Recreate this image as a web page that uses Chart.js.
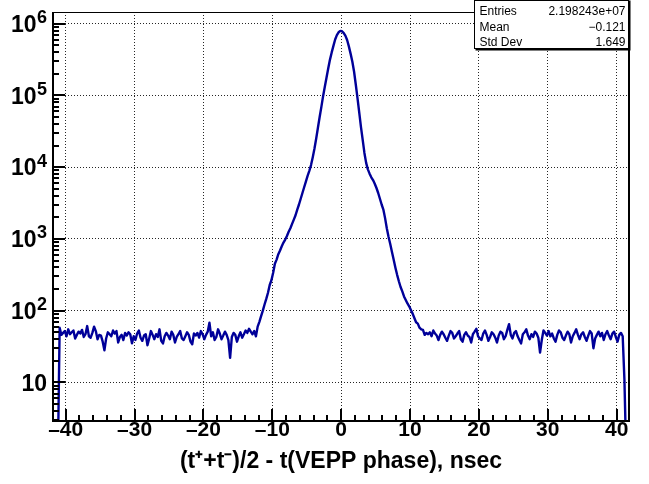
<!DOCTYPE html>
<html><head><meta charset="utf-8">
<script src="https://cdn.jsdelivr.net/npm/chart.js@4/dist/chart.umd.min.js"></script>
<style>html,body{margin:0;padding:0;background:#fff;}canvas{display:block;}</style>
</head><body>
<canvas id="c" width="649" height="484"></canvas>
<script>
// Histogram binning: 336 bins of 0.25 ns from -42 to 42
const binLow = -42;
const binWidth = 0.25;
// Empty bins (value 1 lies below the axis floor, i.e. off-scale like an empty bin)
const emptyLeft = [1, 1, 1, 1];
// Flat background, bins centred -40.875 ... -13.125
const flatLeft = [
  58, 46, 49, 52, 44, 55, 47, 50,
  53, 41, 46, 51, 48, 54, 43, 47,
  61, 44, 42, 49, 60, 52, 40, 46,
  45, 37, 28, 41, 50, 47, 44, 53,
  48, 52, 36, 43, 46, 39, 49, 45,
  50, 47, 35, 44, 39, 48, 53, 42,
  38, 45, 47, 33, 41, 52, 46, 40,
  47, 43, 55, 38, 35, 44, 49, 45,
  40, 51, 46, 36, 43, 47, 52, 41,
  39, 44, 50, 46, 37, 34, 48, 45,
  49, 42, 52, 47, 40, 46, 51, 68,
  44, 50, 39, 43, 55, 48, 40, 45,
  51, 46, 39, 22, 43, 49, 46, 37,
  44, 50, 42, 47, 53, 49, 56, 51
];
// Peak region, bins centred -12.875 ... 12.375
const peak = [
  47, 52, 44, 60, 70, 84, 100, 122,
  146, 178, 228, 266, 338, 452, 515, 612,
  690, 790, 890, 980, 1100, 1260, 1410, 1620,
  1860, 2140, 2570, 3020, 3630, 4370, 5250, 6310,
  7590, 8910, 10700, 13800, 18200, 25100, 35500, 50100,
  69200, 97700, 132000, 178000, 240000, 316000, 398000, 490000,
  603000, 692000, 759000, 794000,
  785000, 741000, 676000, 589000, 479000, 380000, 295000, 214000,
  141000, 91200, 57500, 36300, 24000, 15800, 11500, 9330,
  8130, 7240, 6610, 5890, 5130, 4370, 3630, 3020,
  2570, 1950, 1410, 1070, 850, 660, 513, 398,
  316, 257, 214, 186, 158, 141, 126, 115,
  102, 91, 79, 69, 66, 58, 55, 54,
  46, 49
];
// Flat background, bins centred 12.625 ... 40.875
const flatRight = [
  47, 50, 44, 53, 48, 45, 39, 46,
  51, 47, 42, 38, 45, 52, 49, 41,
  44, 48, 52, 40, 37, 46, 50, 45,
  43, 36, 47, 51, 56, 44, 41, 39,
  48, 53, 46, 38, 43, 50, 47, 42,
  36, 45, 51, 49, 40, 44, 54, 65,
  46, 41, 49, 52, 44, 39, 35, 47,
  50, 55, 45, 40, 47, 43, 51, 48,
  42, 26, 39, 53, 49, 45, 52, 44,
  48, 41, 37, 46, 53, 50, 42, 39,
  45, 51, 47, 36, 44, 49, 55, 46,
  40, 47, 50, 43, 38, 45, 52, 48,
  30, 41, 46, 51, 44, 49, 39, 47,
  52, 45, 40, 48, 51, 43, 37, 46,
  49, 44
];
// Last partial bin, then empty bins
const edgeRight = [11, 1, 1, 1];

const xTickValues = [-40, -30, -20, -10, 0, 10, 20, 30, 40];
const xTickLabels = ['\u201340', '\u201330', '\u201320', '\u201310', '0', '10', '20', '30', '40'];
const yTickValues = [10, 100, 1000, 10000, 100000, 1000000];
const yTickBase = ['10', '10', '10', '10', '10', '10'];
const yTickExponent = ['', '2', '3', '4', '5', '6'];
const xTitle = '(t\u207A+t\u207B)/2 - t(VEPP phase), nsec';
const statsLabels = ['Entries', 'Mean', 'Std Dev'];
const statsValues = ['2.198243e+07', '\u22120.121', '1.649'];

const counts = [].concat(emptyLeft, flatLeft, peak, flatRight, edgeRight);
const points = counts.map((c, i) => ({ x: binLow + (i + 0.5) * binWidth, y: c }));

const FONT = "'Liberation Sans', Arial, Helvetica, sans-serif";

const rootDecor = {
  id: 'rootDecor',
  beforeDraw(chart) {
    const ctx = chart.ctx;
    ctx.save();
    ctx.fillStyle = '#fff';
    ctx.fillRect(0, 0, chart.width, chart.height);
    ctx.restore();
  },
  afterDatasetsDraw(chart) {
    const { ctx, chartArea: a, scales: { x, y } } = chart;
    ctx.save();
    ctx.strokeStyle = '#000';
    ctx.lineWidth = 2;
    ctx.beginPath();
    for (let v = -40; v <= 40; v += 2) {
      const px = Math.round(x.getPixelForValue(v));
      const len = v % 10 === 0 ? 12 : 6;
      ctx.moveTo(px, a.bottom);
      ctx.lineTo(px, a.bottom - len);
    }
    for (let d = 0; d <= 6; d++) {
      for (let k = 1; k <= 9; k++) {
        const v = k * Math.pow(10, d);
        if (v < y.min || v > y.max) continue;
        const py = Math.round(y.getPixelForValue(v));
        const len = k === 1 ? 12 : 6;
        ctx.moveTo(a.left, py);
        ctx.lineTo(a.left + len, py);
      }
    }
    ctx.stroke();
    // frame
    ctx.lineWidth = 1;
    ctx.beginPath();
    ctx.moveTo(a.left, Math.round(a.top) + 0.5);
    ctx.lineTo(a.right, Math.round(a.top) + 0.5);
    ctx.stroke();
    ctx.lineWidth = 2;
    ctx.beginPath();
    ctx.moveTo(a.left, a.top);
    ctx.lineTo(a.left, a.bottom);
    ctx.lineTo(a.right, a.bottom);
    ctx.lineTo(a.right, a.top);
    ctx.stroke();
    // y tick labels: 10 with superscript exponent
    ctx.fillStyle = '#000';
    ctx.textBaseline = 'alphabetic';
    ctx.textAlign = 'left';
    const rightEdge = a.left - 6;
    yTickValues.forEach((v, i) => {
      const py = y.getPixelForValue(v);
      ctx.font = 'bold 18px ' + FONT;
      const ew = yTickExponent[i] ? ctx.measureText(yTickExponent[i]).width : 0;
      ctx.font = 'bold 23px ' + FONT;
      const bw = ctx.measureText(yTickBase[i]).width;
      const bx = rightEdge - ew - bw - (ew ? 0.5 : 0);
      ctx.fillText(yTickBase[i], bx, py + 8.3);
      if (ew) {
        ctx.font = 'bold 18px ' + FONT;
        ctx.fillText(yTickExponent[i], rightEdge - ew, py - 0.5);
      }
    });
    ctx.restore();
  },
  afterDraw(chart) {
    const ctx = chart.ctx;
    ctx.save();
    const bx = 474.5, by = 0.5, bw = 154, bh = 48;
    ctx.fillStyle = '#fff';
    ctx.fillRect(bx, by, bw, bh);
    ctx.strokeStyle = '#000';
    ctx.lineWidth = 1;
    ctx.strokeRect(bx, by, bw, bh);
    ctx.lineWidth = 2;
    ctx.beginPath();
    ctx.moveTo(bx + 1, by + bh + 1);
    ctx.lineTo(bx + bw + 1, by + bh + 1);
    ctx.lineTo(bx + bw + 1, by);
    ctx.stroke();
    ctx.fillStyle = '#000';
    ctx.font = '12px ' + FONT;
    ctx.textBaseline = 'alphabetic';
    const baselines = [15, 30.5, 46];
    statsLabels.forEach((t, i) => {
      ctx.textAlign = 'left';
      ctx.fillText(t, 479.5, baselines[i]);
      ctx.textAlign = 'right';
      ctx.fillText(statsValues[i], 625.5, baselines[i]);
    });
    ctx.restore();
  }
};

new Chart(document.getElementById('c'), {
  type: 'line',
  data: {
    datasets: [{
      data: points,
      borderColor: '#000099',
      borderWidth: 2.4,
      pointRadius: 0,
      tension: 0,
      fill: false,
      borderJoinStyle: 'round'
    }]
  },
  options: {
    responsive: false,
    animation: false,
    devicePixelRatio: 1,
    layout: { padding: { top: 12, right: 20, bottom: 0, left: 0 } },
    plugins: { legend: { display: false }, tooltip: { enabled: false } },
    scales: {
      x: {
        type: 'linear',
        min: -41.84,
        max: 41.79,
        afterBuildTicks(s) { s.ticks = xTickValues.map(v => ({ value: v })); },
        afterFit(s) { s.height = 63; s.paddingLeft = 0; s.paddingRight = 0; },
        ticks: {
          autoSkip: false,
          maxRotation: 0,
          padding: -3,
          color: '#000',
          font: { family: FONT, size: 21, weight: 'bold' },
          callback(v) { const i = xTickValues.indexOf(v); return i >= 0 ? xTickLabels[i] : ''; }
        },
        grid: { color: 'rgba(0,0,0,0.85)', lineWidth: 1, drawTicks: false },
        border: { display: false, dash: [1, 2] },
        title: {
          display: true,
          text: xTitle,
          color: '#000',
          font: { family: FONT, size: 23, weight: 'bold' },
          padding: { top: 0, bottom: 9 }
        }
      },
      y: {
        type: 'logarithmic',
        min: 2.9,
        max: 1456000,
        afterBuildTicks(s) { s.ticks = yTickValues.map(v => ({ value: v, major: true })); },
        afterFit(s) { s.width = 53; s.paddingTop = 0; s.paddingBottom = 0; },
        ticks: { display: false },
        grid: { color: 'rgba(0,0,0,0.85)', lineWidth: 1, drawTicks: false },
        border: { display: false, dash: [1, 2] }
      }
    }
  },
  plugins: [rootDecor]
});
</script>
</body></html>
